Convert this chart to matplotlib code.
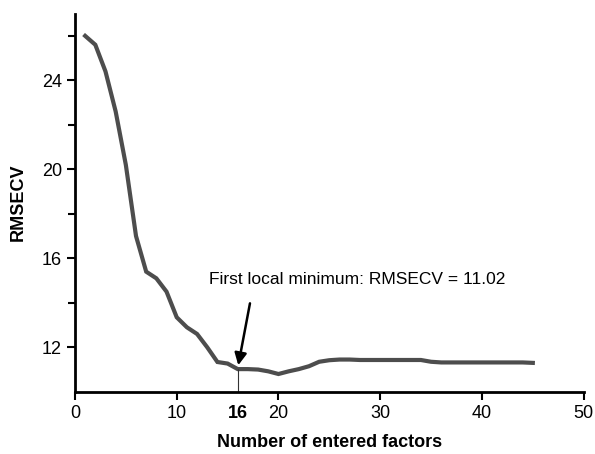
import matplotlib
matplotlib.use("Agg")
import matplotlib.pyplot as plt

plt.rcParams['font.family'] = ['Liberation Sans Narrow', 'Liberation Sans', 'DejaVu Sans']

# number of factors vs cross-validated error
factors = list(range(1, 46))
rmsecv = [26.0, 25.6, 24.4, 22.6, 20.2, 17.0, 15.4, 15.1, 14.5, 13.35,
          12.9, 12.6, 12.0, 11.34, 11.27, 11.02, 11.02, 11.0, 10.92, 10.8,
          10.92, 11.02, 11.15, 11.35, 11.42, 11.45, 11.45, 11.43, 11.43, 11.43,
          11.43, 11.43, 11.43, 11.43, 11.35, 11.32, 11.32, 11.32, 11.32, 11.32,
          11.32, 11.32, 11.32, 11.32, 11.3]
min_x = 16
min_val = 11.02
xticks = [0, 10, 20, 30, 40, 50]
yticks = [12, 16, 20, 24]

fig = plt.figure(figsize=(5.95, 4.54), dpi=100)
ax = fig.add_axes([0.126, 0.137, 0.855, 0.833])

ax.plot(factors, rmsecv, color='#4d4d4d', linewidth=3.0, solid_joinstyle='miter')
ax.vlines(min_x, 10, min_val, color='#333333', linewidth=0.8)

ax.annotate('', xy=(min_x, min_val + 0.05), xytext=(17.25, 14.1),
            arrowprops=dict(arrowstyle='-|>', color='black', lw=1.8, mutation_scale=18))
ax.text(13.2, 15.05, f'First local minimum: RMSECV = {min_val}', fontsize=12.5, va='center')

ax.set_xlim(0, 50)
ax.set_ylim(10, 27)
ax.set_xticks(xticks)
ax.set_yticks(yticks)
ax.set_yticks([14, 18, 22, 26], minor=True)
ax.tick_params(axis='both', which='both', direction='out', width=1.5, labelsize=13)
ax.tick_params(axis='y', which='major', length=6)
ax.tick_params(axis='y', which='minor', length=5)
ax.tick_params(axis='x', which='major', length=6)

for s in ['top', 'right']:
    ax.spines[s].set_visible(False)
for s in ['left', 'bottom']:
    ax.spines[s].set_linewidth(2)

ax.text(min_x, -0.035, str(min_x), transform=ax.get_xaxis_transform(),
        ha='center', va='top', fontsize=13, fontweight='bold')

ax.set_xlabel('Number of entered factors', fontsize=13, fontweight='bold', labelpad=9)
ax.set_ylabel('RMSECV', fontsize=13, fontweight='bold', labelpad=11)

fig.savefig('out.png', dpi=100)
